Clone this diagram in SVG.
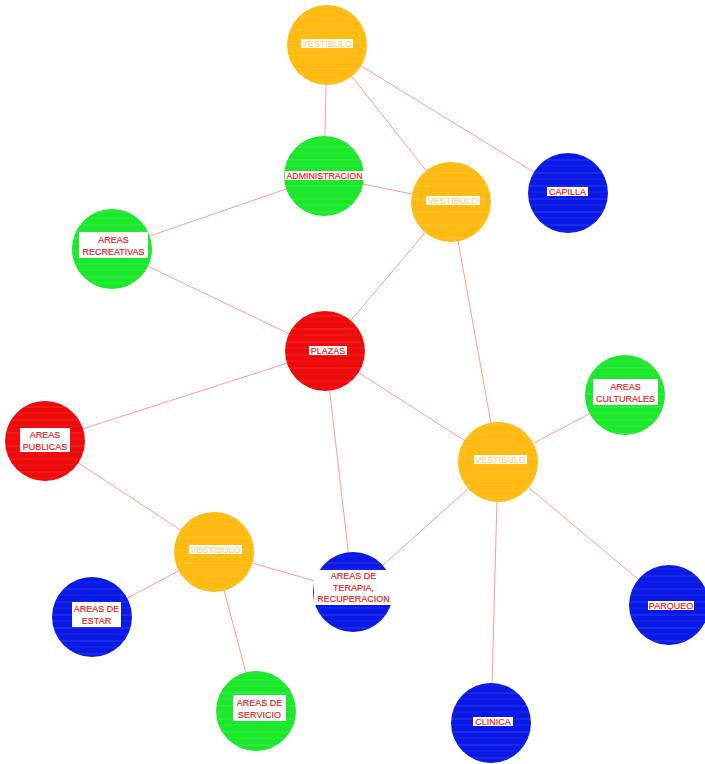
<svg xmlns="http://www.w3.org/2000/svg" width="705" height="764" viewBox="0 0 705 764">
<style>
.e{stroke:#ff7f7f;stroke-width:0.8;fill:none}
.or{fill:#ffbb11}
.gr{fill:#1be82a}
.rd{fill:#ee0a0a}
.bl{fill:#0a1ae6}
.h{fill:url(#hatch)}
.lb{fill:#ffffff}
text{font-family:"Liberation Sans",Arial,sans-serif;font-size:9px;text-anchor:middle;fill:#ee1111;stroke:#ee1111;stroke-width:0.15}
text.v{fill:#ffd070;stroke:#ffd070}
</style>
<defs>
<pattern id="hatch" patternUnits="userSpaceOnUse" width="10" height="13">
<line x1="0" y1="4" x2="10" y2="4" stroke="#ffffff" stroke-opacity="0.2" stroke-width="0.7"/>
<line x1="0" y1="10" x2="10" y2="10" stroke="#ffffff" stroke-opacity="0.1" stroke-width="0.6"/>
</pattern>
</defs>
<rect width="705" height="764" fill="#ffffff"/>
<g id="connectors">
<line class="e" x1="327" y1="45" x2="324" y2="176"/>
<line class="e" x1="327" y1="45" x2="451" y2="202"/>
<line class="e" x1="327" y1="45" x2="568" y2="193"/>
<line class="e" x1="324" y1="176" x2="451" y2="202"/>
<line class="e" x1="324" y1="176" x2="112" y2="249"/>
<line class="e" x1="112" y1="249" x2="325" y2="351"/>
<line class="e" x1="451" y1="202" x2="325" y2="351"/>
<line class="e" x1="451" y1="202" x2="498" y2="462"/>
<line class="e" x1="325" y1="351" x2="45" y2="441"/>
<line class="e" x1="325" y1="351" x2="498" y2="462"/>
<line class="e" x1="325" y1="351" x2="353" y2="592"/>
<line class="e" x1="498" y1="462" x2="625" y2="395"/>
<line class="e" x1="498" y1="462" x2="669" y2="605"/>
<line class="e" x1="498" y1="462" x2="491" y2="723"/>
<line class="e" x1="498" y1="462" x2="353" y2="592"/>
<line class="e" x1="45" y1="441" x2="214" y2="552"/>
<line class="e" x1="214" y1="552" x2="353" y2="592"/>
<line class="e" x1="214" y1="552" x2="92" y2="617"/>
<line class="e" x1="214" y1="552" x2="256" y2="711"/>
</g>
<g id="vestibulo1">
<circle class="or" cx="327" cy="45" r="40"/><circle class="h" cx="327" cy="45" r="40"/>
<rect class="lb" x="301" y="39" width="52" height="9"/>
<text class="v" x="327" y="46.7">VESTIBULO</text>
</g>
<g id="administracion">
<circle class="gr" cx="324" cy="176" r="40"/><circle class="h" cx="324" cy="176" r="40"/>
<rect class="lb" x="285" y="171" width="79" height="9"/>
<text x="324.5" y="178.7" textLength="76" lengthAdjust="spacingAndGlyphs">ADMINISTRACION</text>
</g>
<g id="vestibulo2">
<circle class="or" cx="451" cy="202" r="40"/><circle class="h" cx="451" cy="202" r="40"/>
<rect class="lb" x="426" y="196" width="54" height="9"/>
<text class="v" x="453" y="203.7">VESTIBULO</text>
</g>
<g id="capilla">
<circle class="bl" cx="568" cy="193" r="40"/><circle class="h" cx="568" cy="193" r="40"/>
<rect class="lb" x="547" y="187" width="41" height="9"/>
<text x="567.5" y="194.7">CAPILLA</text>
</g>
<g id="recreativas">
<circle class="gr" cx="112" cy="249" r="40"/><circle class="h" cx="112" cy="249" r="40"/>
<rect class="lb" x="79" y="232" width="69" height="26"/>
<text x="113.5" y="242.5">AREAS</text>
<text x="113.5" y="255">RECREATIVAS</text>
</g>
<g id="plazas">
<circle class="rd" cx="325" cy="351" r="40"/><circle class="h" cx="325" cy="351" r="40"/>
<rect class="lb" x="309" y="346" width="38" height="9"/>
<text x="328" y="353.7">PLAZAS</text>
</g>
<g id="culturales">
<circle class="gr" cx="625" cy="395" r="40"/><circle class="h" cx="625" cy="395" r="40"/>
<rect class="lb" x="593" y="379" width="65" height="26"/>
<text x="625.5" y="389.5">AREAS</text>
<text x="625.5" y="402">CULTURALES</text>
</g>
<g id="publicas">
<circle class="rd" cx="45" cy="441" r="40"/><circle class="h" cx="45" cy="441" r="40"/>
<rect class="lb" x="20" y="428" width="50" height="24"/>
<text x="45" y="437.5">AREAS</text>
<text x="45" y="449.5">PUBLICAS</text>
</g>
<g id="vestibulo3">
<circle class="or" cx="498" cy="462" r="40"/><circle class="h" cx="498" cy="462" r="40"/>
<rect class="lb" x="474" y="455" width="53" height="9"/>
<text class="v" x="500.5" y="462.7">VESTIBULO</text>
</g>
<g id="vestibulo4">
<circle class="or" cx="214" cy="552" r="40"/><circle class="h" cx="214" cy="552" r="40"/>
<rect class="lb" x="189" y="545" width="53" height="9"/>
<text class="v" x="215.5" y="552.7">VESTIBULO</text>
</g>
<g id="terapia">
<circle class="bl" cx="353" cy="592" r="40"/><circle class="h" cx="353" cy="592" r="40"/>
<rect class="lb" x="314" y="570" width="79" height="35"/>
<text x="353.5" y="579">AREAS DE</text>
<text x="353.5" y="590.5">TERAPIA,</text>
<text x="353.5" y="602">RECUPERACION</text>
</g>
<g id="estar">
<circle class="bl" cx="92" cy="617" r="40"/><circle class="h" cx="92" cy="617" r="40"/>
<rect class="lb" x="72" y="602" width="49" height="25"/>
<text x="96.5" y="611.5">AREAS DE</text>
<text x="96.5" y="623.5">ESTAR</text>
</g>
<g id="parqueo">
<circle class="bl" cx="669" cy="605" r="40"/><circle class="h" cx="669" cy="605" r="40"/>
<rect class="lb" x="648" y="601" width="46" height="9"/>
<text x="671" y="608.7">PARQUEO</text>
</g>
<g id="servicio">
<circle class="gr" cx="256" cy="711" r="40"/><circle class="h" cx="256" cy="711" r="40"/>
<rect class="lb" x="233" y="695" width="53" height="26"/>
<text x="259.5" y="705.5">AREAS DE</text>
<text x="259.5" y="717.5">SERVICIO</text>
</g>
<g id="clinica">
<circle class="bl" cx="491" cy="723" r="40"/><circle class="h" cx="491" cy="723" r="40"/>
<rect class="lb" x="473" y="717" width="40" height="9"/>
<text x="493" y="724.7">CLINICA</text>
</g>
</svg>
